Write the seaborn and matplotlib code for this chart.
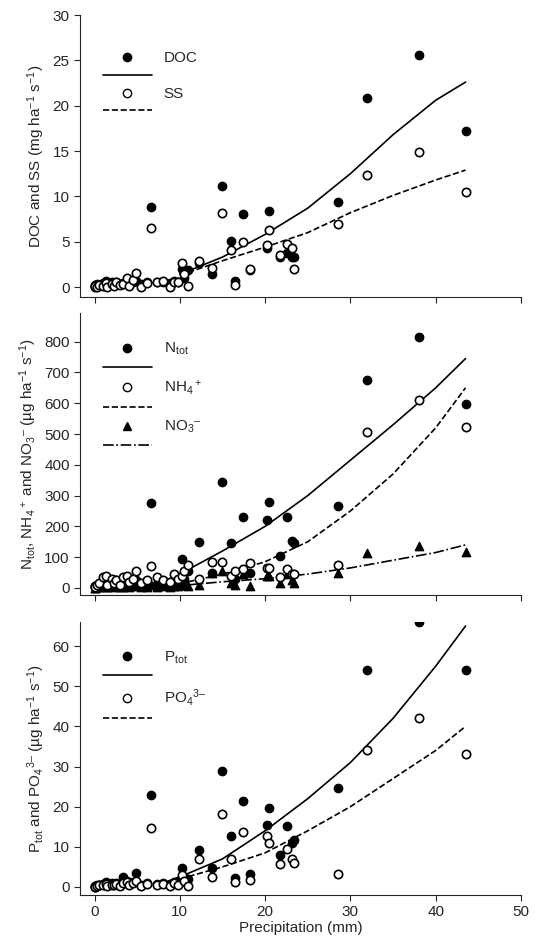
import numpy as np
import pandas as pd
import matplotlib
matplotlib.use("Agg")
import matplotlib.pyplot as plt
import seaborn as sns
from matplotlib.lines import Line2D

sns.set_style("ticks")
plt.rcParams['font.family'] = ['Liberation Sans', 'DejaVu Sans']
plt.rcParams['mathtext.fontset'] = 'custom'
plt.rcParams['mathtext.rm'] = 'Liberation Sans'
plt.rcParams['mathtext.it'] = 'Liberation Sans'

# precipitation of each event (mm)
precip = [0, 0, 0.3, 0.5, 1, 1.3, 1.5, 2, 2.3, 2.5, 3, 3.3, 3.8, 4, 4.5, 4.8, 5.5, 6.2,
          6.6, 7.3, 8, 8.8, 9.3, 9.8, 10.3, 10.5, 11, 12.2, 13.8, 15, 16, 16.5, 17.4,
          18.2, 20.2, 20.4, 21.8, 22.6, 23.2, 23.4, 28.6, 32, 38, 43.5]

doc = [0.2, 0.1, 0.3, 0.2, 0.4, 0.7, 0.3, 0.5, 0.2, 0.6, 0.3, 0.4, 0.6, 0.2, 0.5, 0.7, 0.3, 0.5,
       8.8, 0.5, 0.6, 0.4, 0.7, 0.6, 2.0, 1.0, 1.9, 2.6, 1.4, 11.1, 5.1, 0.7, 8.1,
       1.9, 4.3, 8.4, 3.3, 3.8, 3.3, 3.3, 9.4, 20.8, 25.6, 17.2]
ss = [0.0, 0.1, 0.0, 0.2, 0.1, 0.4, 0.0, 0.3, 0.1, 0.6, 0.2, 0.3, 1.0, 0.1, 0.8, 1.5, 0.0, 0.4,
      6.5, 0.5, 0.7, 0.0, 0.5, 0.6, 2.7, 1.4, 0.1, 2.9, 2.1, 8.2, 4.1, 0.2, 5.0,
      2.0, 4.6, 6.3, 3.5, 4.7, 4.3, 2.0, 7.0, 12.4, 14.9, 10.5]

ntot = [5, 3, 8, 10, 15, 12, 6, 20, 10, 25, 8, 15, 30, 10, 20, 25, 8, 15,
        275, 12, 20, 10, 25, 30, 95, 30, 55, 148, 50, 345, 145, 30, 232,
        50, 222, 278, 105, 230, 152, 145, 265, 675, 815, 598]
nh4 = [5, 2, 10, 15, 35, 40, 10, 30, 15, 25, 10, 35, 40, 20, 30, 55, 15, 25,
       70, 35, 25, 20, 45, 30, 40, 55, 75, 30, 85, 85, 40, 55, 60,
       80, 65, 65, 35, 60, 45, 45, 75, 508, 612, 522]
no3 = [0, 0, 2, 3, 5, 3, 2, 5, 3, 6, 2, 4, 8, 3, 5, 8, 2, 4,
       10, 3, 5, 2, 6, 5, 8, 10, 5, 10, 50, 55, 15, 10, 45,
       5, 40, 40, 15, 45, 25, 15, 50, 115, 135, 118]

ptot = [0.3, 0.2, 0.5, 0.6, 0.8, 1.2, 0.5, 1.0, 0.8, 1.1, 0.6, 2.5, 1.5, 0.8, 1.2, 3.6, 0.5, 1.0,
        23.0, 0.8, 1.0, 0.6, 1.2, 1.5, 4.8, 2.5, 2.0, 9.1, 4.7, 29.0, 12.7, 2.3, 21.3,
        3.3, 15.5, 19.6, 8.0, 15.3, 11.0, 11.8, 24.6, 54.0, 66.0, 54.0]
po4 = [0.1, 0.0, 0.3, 0.4, 0.5, 0.8, 0.2, 0.6, 0.4, 0.8, 0.3, 1.0, 1.2, 0.4, 0.9, 1.5, 0.2, 0.8,
       14.6, 0.6, 0.8, 0.2, 1.0, 0.5, 3.0, 1.5, 0.3, 7.0, 2.5, 18.3, 6.9, 1.2, 13.6,
       1.8, 12.6, 11.0, 5.6, 9.5, 7.0, 6.0, 3.3, 34.0, 42.0, 33.0]

# fitted curves
fit_x = [10, 15, 20, 25, 30, 35, 40, 43.5]
doc_fit = [1.4, 3.3, 5.8, 8.7, 12.5, 16.8, 20.6, 22.6]
ss_fit = [1.3, 2.9, 4.4, 6.0, 8.2, 10.1, 11.8, 12.9]
fit_xn = [11, 15, 20, 25, 30, 35, 40, 43.5]
ntot_fit = [60, 120, 200, 300, 415, 530, 650, 745]
nh4_fit = [20, 45, 85, 150, 250, 370, 520, 650]
no3_fit = [10, 20, 30, 45, 65, 90, 115, 140]
fit_xp = [8, 10, 15, 20, 25, 30, 35, 40, 43.5]
ptot_fit = [1, 2.5, 7, 14, 22, 31, 42, 55, 65]
po4_fit = [1, 2, 5, 8.5, 14, 20, 27, 34, 40]

fig = plt.figure(figsize=(5.41, 9.44), dpi=100)
L, W = 0.148, 0.815
ax1 = fig.add_axes([L, 0.6854, W, 0.2987])
ax2 = fig.add_axes([L, 0.3697, W, 0.2987])
ax3 = fig.add_axes([L, 0.0519, W, 0.2892])

ms = 36
filled = dict(color='black', edgecolor='black', s=ms, linewidth=1, zorder=3)
hollow = dict(color='white', edgecolor='black', s=ms, linewidth=1.2, zorder=4)


def panel(ax, series, ylim, yticks, ylabel, legend_y):
    handles = []
    for vals, kind, marker, fx, fy, ls, lab in series:
        sty = filled if kind == 'f' else hollow
        sns.scatterplot(x=precip, y=vals, marker=marker, ax=ax, legend=False, **sty)
        sns.lineplot(x=fx, y=fy, ax=ax, color='black', linestyle=ls, linewidth=1.2,
                     legend=False, zorder=2)
        fc = 'black' if kind == 'f' else 'white'
        handles.append(Line2D([], [], linestyle='none', marker=marker, markersize=6,
                              markerfacecolor=fc, markeredgecolor='black', label=lab))
        handles.append(Line2D([], [], color='black', linestyle=ls, linewidth=1.2, label=' '))
    ax.legend(handles=handles, loc='upper left', bbox_to_anchor=(0.02, legend_y),
              frameon=False, fontsize=11, handlelength=3.2, labelspacing=0.25,
              handletextpad=0.8)
    ax.set_xlim(-1.7, 50)
    ax.set_ylim(*ylim)
    ax.set_yticks(yticks)
    ax.set_xticks([0, 10, 20, 30, 40, 50])
    ax.set_ylabel(ylabel, fontsize=11)
    ax.tick_params(labelsize=11, direction='out', length=4)
    ax.spines['left'].set_bounds(ylim[0], ylim[1])
    sns.despine(ax=ax)


panel(ax1, [(doc, 'f', 'o', fit_x, doc_fit, '-', 'DOC'),
            (ss, 'h', 'o', fit_x, ss_fit, '--', 'SS')],
      (-1.1, 30), [0, 5, 10, 15, 20, 25, 30],
      'DOC and SS (mg ha$^{-1}$ s$^{-1}$)', 0.92)
panel(ax2, [(ntot, 'f', 'o', fit_xn, ntot_fit, '-', 'N$_{\\rm tot}$'),
            (nh4, 'h', 'o', fit_xn, nh4_fit, '--', 'NH$_4$$^+$'),
            (no3, 'f', '^', fit_xn, no3_fit, '-.', 'NO$_3$$^{\u2013}$')],
      (-23, 893), [0, 100, 200, 300, 400, 500, 600, 700, 800],
      'N$_{\\rm tot}$, NH$_4$$^+$ and NO$_3$$^{\u2013}$ (\u00b5g ha$^{-1}$ s$^{-1}$)', 0.95)
panel(ax3, [(ptot, 'f', 'o', fit_xp, ptot_fit, '-', 'P$_{\\rm tot}$'),
            (po4, 'h', 'o', fit_xp, po4_fit, '--', 'PO$_4$$^{3\u2013}$')],
      (-2, 66), [0, 10, 20, 30, 40, 50, 60],
      'P$_{\\rm tot}$ and PO$_4$$^{3\u2013}$ (\u00b5g ha$^{-1}$ s$^{-1}$)', 0.95)
ax1.tick_params(labelbottom=False)
ax2.tick_params(labelbottom=False)
ax3.set_xlabel('Precipitation (mm)', fontsize=11, labelpad=1)

fig.savefig('out.png', dpi=100)
